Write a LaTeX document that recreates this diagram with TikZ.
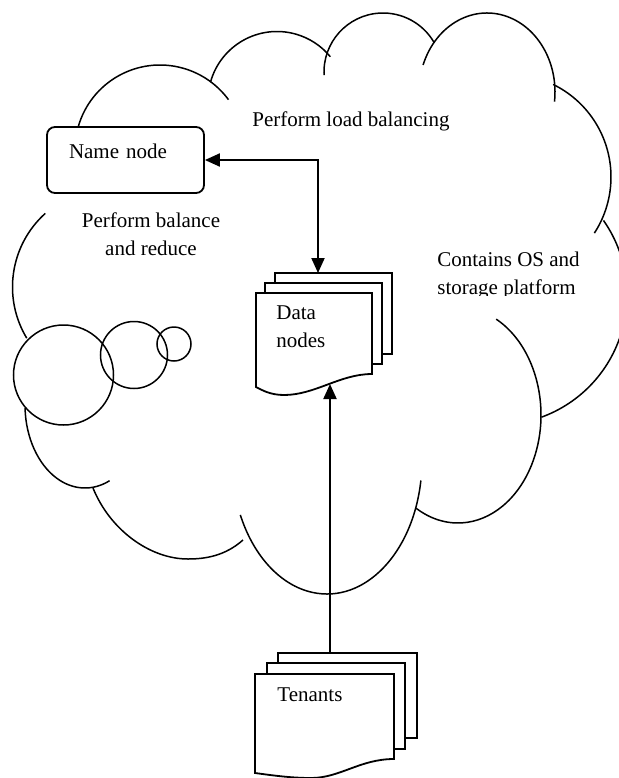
\documentclass[tikz,border=0pt]{standalone}
\usepackage{fontspec}
\setmainfont{Liberation Serif}
\usetikzlibrary{arrows.meta,positioning,calc}
\tikzstyle{arrow} = [line width=1pt,-{Triangle[length=7.5pt,width=6.5pt]}]
\tikzstyle{dblarrow} = [line width=1pt,{Triangle[length=7.5pt,width=6.5pt]}-{Triangle[length=7.5pt,width=6.5pt]}]

\begin{document}
\begin{tikzpicture}[x=0.5pt,y=-0.5pt,
    cloudline/.style={line width=0.75pt},
    sheet/.style={draw,fill=white,line width=0.9pt},
    namebox/.style={draw,fill=white,rounded corners=4pt,line width=0.9pt,inner xsep=11pt,inner ysep=0pt,text width=56.5pt,text height=15.5pt,text depth=17.5pt,align=left,font=\fontsize{10.5}{13.75}\selectfont},
    lbl/.style={inner sep=0pt,font=\fontsize{10.5}{13.75}\selectfont},
    bubble/.style={draw,circle,line width=0.75pt,inner sep=0pt},]
        \useasboundingbox (0,0) rectangle (618,778);

        % cloud: arc (center) ++(start:r) arc[...]
        \draw[cloudline] (160,150) ++(195.7:85) arc[start angle=195.7,end angle=323.7,radius=85];
        \draw[cloudline] (277,100.5) ++(195.4:69) arc[start angle=195.4,end angle=320.6,radius=69];
        \draw[cloudline] (383,72) ++(177:59) arc[start angle=177,end angle=330,radius=59];
        \draw[cloudline] (487,92) ++(200:68 and 79) arc[start angle=200,end angle=367,x radius=68,y radius=79];
        \draw[cloudline] (508,177) ++(296:103) arc[start angle=296,end angle=393,radius=103];
        \draw[cloudline] (497,295) ++(325:130) arc[start angle=325,end angle=430,radius=130];
        \draw[cloudline] (458,415) ++(-62.6:83 and 108) arc[start angle=-62.6,end angle=120.4,x radius=83,y radius=108];
        \draw[cloudline] (327,460) ++(8.8:95 and 134) arc[start angle=8.8,end angle=155.8,x radius=95,y radius=134];
        \draw[cloudline] (243,540) .. controls (225,556) and (205,559) .. (188,559) .. controls (150,559) and (110,530) .. (93,488);
        \draw[cloudline] (85,405) ++(178:60 and 83) arc[start angle=178,end angle=65.8,x radius=60,y radius=83];
        \draw[cloudline] (111.5,287) ++(228:99) arc[start angle=228,end angle=148.9,radius=99];

        % bubbles
        \node[bubble,minimum size=50pt] (bub1) at (63.5,375) {};
        \node[bubble,minimum size=33.5pt] (bub2) at (134,355) {};
        \node[bubble,minimum size=17pt] (bub3) at (174,344) {};

        % name node
        \node[namebox] (name) at (125.5,160) {Name node};

        % data nodes (3 sheets)
        \draw[sheet] (275,273) rectangle (392,354);
        \draw[sheet] (265,283) rectangle (382,364);
        \draw[sheet] (256,387) -- (256,293) -- (372,293) -- (372,374) .. controls (340,374) and (315,395) .. (284,395) .. controls (270,395) and (262,390) .. cycle;
        \node[lbl,anchor=base west,align=left] (data) at (276,347) {Data\\nodes};

        % tenants (3 sheets)
        \draw[sheet] (278,653) rectangle (417,738);
        \draw[sheet] (267,663) rectangle (405,749);
        \draw[sheet] (255,773) -- (255,674) -- (394,674) -- (394,759) .. controls (360,759) and (340,778) .. (311,778) .. controls (290,778) and (270,775) .. cycle;
        \node[lbl,anchor=base west] (tenants) at (277,701) {Tenants};

        % labels (base = last line)
        \node[lbl,anchor=base west] (loadtxt) at (252,126) {Perform load balancing};
        \node[lbl,anchor=base,align=center] (balancetxt) at (151,255) {Perform balance\\and reduce};
        \begin{scope}
            \clip (430,240) rectangle (610,295);
            \node[lbl,anchor=base west,align=left] (ostxt) at (437,294) {Contains OS and\\storage platform};
        \end{scope}

        % connectors
        \coordinate (datatop) at (318,273);
        \coordinate (datawave) at (330,384);
        \coordinate (tenanttop) at (330,653);
        \draw[dblarrow] (name.east) -| (datatop); % name <-> data
        \draw[arrow] (tenanttop) -- (datawave); % tenants -> data
    \end{tikzpicture}
\end{document}
